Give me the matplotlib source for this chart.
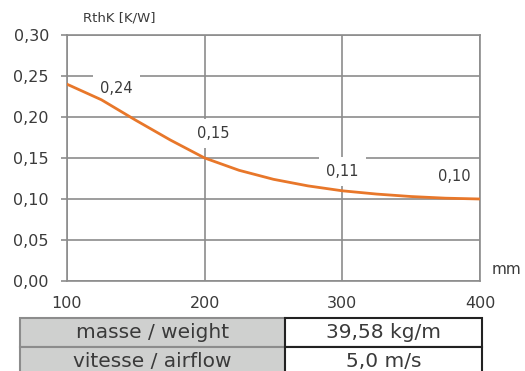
import matplotlib
matplotlib.use("Agg")
import matplotlib.pyplot as plt

# curve
thickness = [100, 125, 150, 175, 200, 225, 250, 275, 300, 325, 350, 375, 400]
rthk = [0.240, 0.221, 0.196, 0.172, 0.150, 0.135, 0.124, 0.116, 0.110, 0.106, 0.103, 0.101, 0.100]

label_x = [136, 206, 300, 381]
label_y = [0.235, 0.180, 0.133, 0.128]
label_txt = ["0,24", "0,15", "0,11", "0,10"]

yticks = [0.00, 0.05, 0.10, 0.15, 0.20, 0.25, 0.30]
xticks = [100, 200, 300, 400]

table_rows = [["masse / weight", "39,58 kg/m"],
              ["vitesse / airflow", "5,0 m/s"]]

plt.rcParams['font.family'] = ['DejaVu Sans']
txt_col = '#3a3a3a'
grid_col = '#8c8c8c'

fig = plt.figure(figsize=(5.25, 3.71), dpi=100)
ax = fig.add_axes([67/525, 1-281/371, (480-67)/525, (281-35)/371])
ax.set_axisbelow(True)

ax.plot(thickness, rthk, color='#e8772a', linewidth=2, zorder=3)
ax.set_xlim(100, 400)
ax.set_ylim(0, 0.30)
ax.set_yticks(yticks)
ax.set_yticklabels([f"{v:.2f}".replace('.', ',') for v in yticks])
ax.set_xticks(xticks)
ax.set_xticklabels([str(v) for v in xticks])
ax.grid(True, color=grid_col, linewidth=1.2, zorder=0)
ax.tick_params(axis='y', length=4, color=grid_col, width=1.2, labelsize=11.5, labelcolor=txt_col, pad=9)
ax.tick_params(axis='x', length=0, labelsize=11.5, labelcolor=txt_col, pad=11)
for s in ax.spines.values():
    s.set_color(grid_col)
    s.set_linewidth(1.2)

for x, y, t in zip(label_x, label_y, label_txt):
    ax.text(x, y, t, ha='center', va='center', fontsize=10.5, color=txt_col, zorder=2,
            bbox=dict(facecolor='white', edgecolor='none', pad=5))

fig.text(83/525, 1-18/371, "RthK [K/W]", fontsize=9.5, color=txt_col, ha='left', va='center')
fig.text(492/525, 1-270/371, "mm", fontsize=11, color=txt_col, ha='left', va='center')

# parameter table under the chart
tax = fig.add_axes([20/525, 1-376/371, (482-20)/525, (376-318)/371])
tax.axis('off')
tbl = tax.table(cellText=table_rows, bbox=[0, 0, 1, 1], colWidths=[265, 197], cellLoc='center')
tbl.auto_set_font_size(False)
for (r, c), cell in tbl.get_celld().items():
    cell.set_fontsize(14.5)
    cell.get_text().set_color(txt_col)
    cell.set_linewidth(1.5)
    if c == 0:
        cell.set_facecolor('#cfd0cf')
        cell.set_edgecolor('#8c8c8c')
    else:
        cell.set_facecolor('white')
        cell.set_edgecolor('#222222')

fig.savefig("out.png", dpi=100)
